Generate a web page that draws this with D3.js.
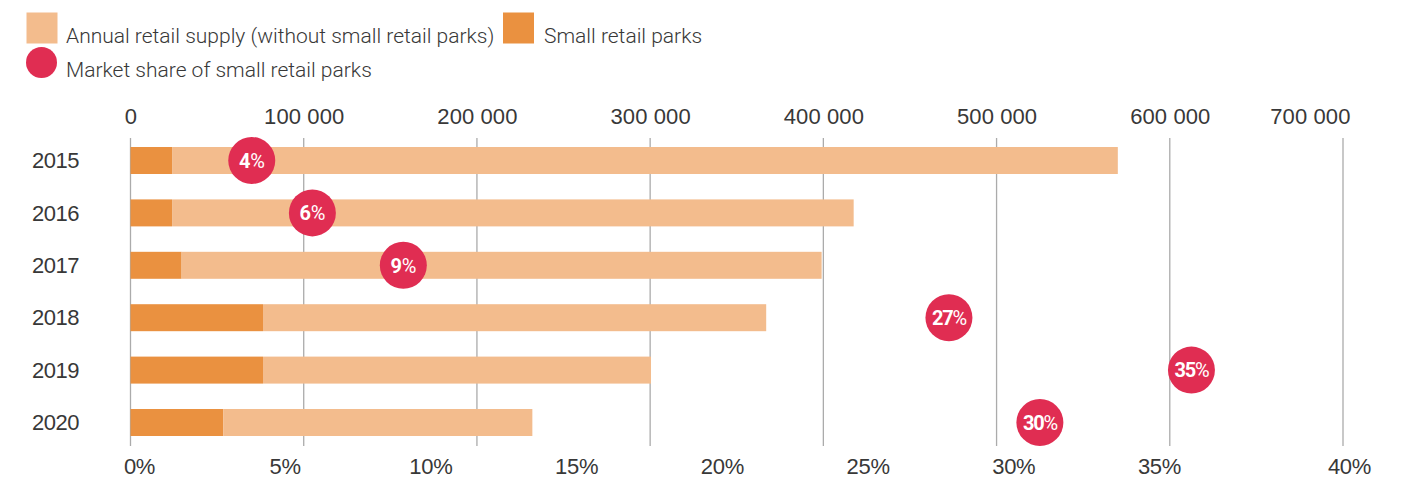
<!DOCTYPE html>
<html>
<head>
<meta charset="utf-8">
<script src="https://cdn.jsdelivr.net/npm/d3@7"></script>
<style>
  html, body { margin: 0; padding: 0; background: #fff; }
  svg { display: block; font-family: Roboto, "Liberation Sans", sans-serif; }
  .axis text { fill: #383838; font-weight: 300; }
</style>
</head>
<body>
<svg id="chart" width="1405" height="479"></svg>
<script>
// Retail supply per year (m²), split into small retail parks and the rest
const years = ["2015", "2016", "2017", "2018", "2019", "2020"];
const smallParks = [24000, 24000, 29500, 76500, 76500, 53500];
const otherSupply = [546000, 393500, 369500, 290500, 224000, 178500];
// Market share of small retail parks (%)
const shareValues = [4, 6, 9, 27, 35, 30];
// Axis ticks
const supplyTicks = [0, 100000, 200000, 300000, 400000, 500000, 600000, 700000];
const shareTicks = [0, 5, 10, 15, 20, 25, 30, 35, 40];

const colors = {
  other: "#F3BC8D",
  small: "#EA9140",
  share: "#E02D52",
  grid: "#ABABAB",
  text: "#383838"
};

const svg = d3.select("#chart");

const x = d3.scaleLinear().domain([0, 700000]).range([130.5, 1343]);
const xShare = d3.scaleLinear().domain([0, 40]).range(x.range());
// bottom percentage labels sit on their own spacing
const xShareLabels = d3.scaleLinear().domain([0, 35, 40]).range([139, 1159, 1349]);
const y = d3.scaleBand().domain(years).range([134.3, 448.7])
  .paddingInner(0.485).paddingOuter(0.2425);

const fmtSpace = v => d3.format(",")(v).replace(/,/g, " ");

// gridlines
svg.append("g")
  .selectAll("line")
  .data(supplyTicks)
  .join("line")
  .attr("x1", d => x(d)).attr("x2", d => x(d))
  .attr("y1", 138).attr("y2", 446)
  .attr("stroke", colors.grid)
  .attr("stroke-width", 1.3);

// top axis
const topAxis = svg.append("g")
  .attr("class", "axis")
  .attr("transform", "translate(0,124)")
  .call(d3.axisTop(x).tickValues(supplyTicks).tickFormat(fmtSpace).tickSize(0).tickPadding(0));
topAxis.select(".domain").remove();
topAxis.selectAll("text")
  .attr("font-size", 22)
  .attr("letter-spacing", 0.1)
  .attr("dy", 0)
  .attr("text-anchor", d => d === 700000 ? "end" : "middle")
  .attr("dx", d => d === 700000 ? 7 : 0);

// bottom axis
const bottomAxis = svg.append("g")
  .attr("class", "axis")
  .attr("transform", "translate(0,474)")
  .call(d3.axisBottom(xShareLabels).tickValues(shareTicks).tickFormat(d => d + "%").tickSize(0).tickPadding(0));
bottomAxis.select(".domain").remove();
bottomAxis.selectAll("text")
  .attr("font-size", 22)
  .attr("letter-spacing", -0.3)
  .attr("dy", 0)
  .attr("y", 0);

// year labels
const leftAxis = svg.append("g")
  .attr("class", "axis")
  .attr("transform", "translate(79,0)")
  .call(d3.axisLeft(y).tickSize(0).tickPadding(0));
leftAxis.select(".domain").remove();
leftAxis.selectAll("text")
  .attr("font-size", 22)
  .attr("letter-spacing", -0.5)
  .attr("dy", "0.35em");

// stacked bars
const rows = years.map((yr, i) => ({ year: yr, small: smallParks[i], other: otherSupply[i], share: shareValues[i] }));

const bars = svg.append("g");
bars.selectAll("rect.small")
  .data(rows)
  .join("rect")
  .attr("class", "small")
  .attr("x", x(0))
  .attr("y", d => y(d.year))
  .attr("width", d => x(d.small) - x(0))
  .attr("height", y.bandwidth())
  .attr("fill", colors.small);
bars.selectAll("rect.other")
  .data(rows)
  .join("rect")
  .attr("class", "other")
  .attr("x", d => x(d.small))
  .attr("y", d => y(d.year))
  .attr("width", d => x(d.small + d.other) - x(d.small))
  .attr("height", y.bandwidth())
  .attr("fill", colors.other);

// market share bubbles
const bubbles = svg.append("g")
  .selectAll("g")
  .data(rows)
  .join("g")
  .attr("transform", d => `translate(${xShare(d.share)},${y(d.year) + y.bandwidth() / 2})`);
bubbles.append("circle")
  .attr("r", 23.5)
  .attr("fill", colors.share);
const bubbleText = bubbles.append("text")
  .attr("text-anchor", "middle")
  .attr("dy", "0.36em")
  .attr("font-size", 20)
  .attr("fill", "#fff")
  .attr("letter-spacing", d => d.share >= 10 ? -1.2 : -0.3);
bubbleText.append("tspan").attr("font-weight", 700).text(d => d.share);
bubbleText.append("tspan").attr("font-weight", 400).text("%");

// legend
const legend = svg.append("g").attr("font-size", 21).attr("fill", colors.text)
  .attr("font-weight", 300).attr("letter-spacing", 0);
legend.append("rect").attr("x", 26.5).attr("y", 12.5).attr("width", 31).attr("height", 31).attr("fill", colors.other);
legend.append("text").attr("x", 66).attr("y", 43).text("Annual retail supply (without small retail parks)");
legend.append("rect").attr("x", 503).attr("y", 12.5).attr("width", 31).attr("height", 31).attr("fill", colors.small);
legend.append("text").attr("x", 544).attr("y", 43).text("Small retail parks");
legend.append("circle").attr("cx", 41.5).attr("cy", 62.5).attr("r", 15.5).attr("fill", colors.share);
legend.append("text").attr("x", 66).attr("y", 77).text("Market share of small retail parks");
</script>
</body>
</html>
